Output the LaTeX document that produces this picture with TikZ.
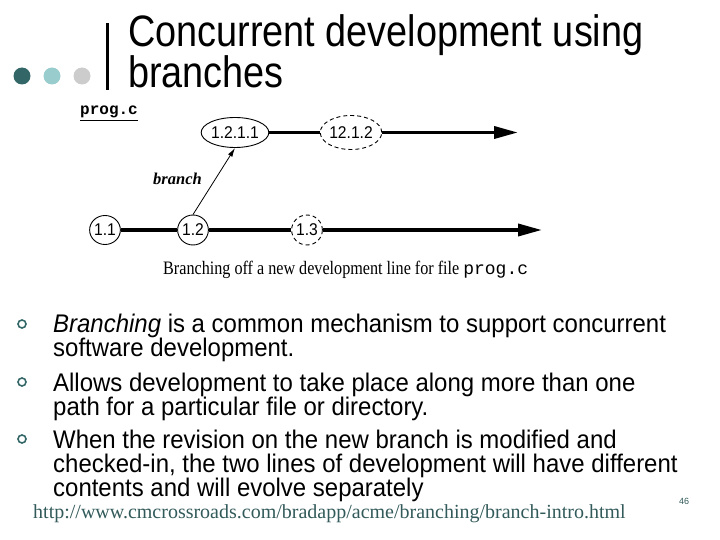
\documentclass[tikz,border=0pt]{standalone}
\usepackage{fontspec}
\setmainfont{Liberation Sans}
\newfontfamily\seriffont{Liberation Serif}
\newfontfamily\monofont{Liberation Mono}
\usetikzlibrary{shapes.geometric,arrows.meta}
\definecolor{darkteal}{RGB}{51,102,102}
\definecolor{lightteal}{RGB}{153,204,204}
\definecolor{dotgray}{RGB}{204,204,204}
\definecolor{urlcol}{RGB}{51,90,90}
\tikzset{
  rev/.style={ellipse,draw,line width=0.9pt,inner sep=0pt,font=\fontsize{17}{17}\selectfont},
  revdash/.style={rev,dash pattern=on 4pt off 3pt},
  mainline/.style={line width=3.6pt},
  arrowline/.style={line width=3.6pt,-{Triangle[length=24pt,width=12pt]}},
  branchline/.style={line width=0.8pt,-{Latex[length=9pt,width=5pt]}},
  bodyline/.style={anchor=base west,inner sep=0pt,xscale=0.94,transform shape,font=\fontsize{25.5}{25.5}\selectfont},
  bul/.style={circle,draw=darkteal,line width=1.6pt,minimum size=8pt,inner sep=0pt},
}
\begin{document}
\begin{tikzpicture}[x=1pt,y=-1pt]
\useasboundingbox (0,0) rectangle (720,540);
% header decoration
\fill[darkteal] (22,76) circle (8.5);
\fill[lightteal] (52,76) circle (8.5);
\fill[dotgray] (82,76) circle (8.5);
\fill[black] (105.5,23) rectangle (108.5,90);
% title
\node[anchor=base west,inner sep=0pt,xscale=0.86,transform shape,font=\fontsize{44}{44}\selectfont] (t1) at (128,47) {Concurrent development using};
\node[anchor=base west,inner sep=0pt,xscale=0.86,transform shape,font=\fontsize{44}{44}\selectfont] (t2) at (128,88) {branches};
% diagram
\node[anchor=base west,inner sep=0pt,font=\monofont\bfseries\fontsize{16}{16}\selectfont] (pc) at (80,115) {\underline{prog.c}};
\node[rev,minimum width=33pt,minimum height=29pt,xscale=0.92,transform shape] (n11) at (105,230) {1.1};
\node[rev,minimum width=33pt,minimum height=30pt,xscale=0.92,transform shape] (n12) at (193,230) {1.2};
\node[revdash,minimum width=33pt,minimum height=30pt,xscale=0.92,transform shape] (n13) at (307,230) {1.3};
\node[rev,minimum width=64pt,minimum height=30pt,xscale=0.92,transform shape] (n1211) at (235,132.5) {1.2.1.1};
\node[revdash,minimum width=61pt,minimum height=34pt,xscale=0.92,transform shape] (n1212) at (351,132.5) {12.1.2};
\coordinate (e1) at (518,132.5);
\coordinate (e2) at (542,230);
\draw[mainline] (n11) -- (n12);
\draw[mainline] (n12) -- (n13);
\draw[arrowline] (n13) -- (e2);
\draw[mainline] (n1211) -- (n1212);
\draw[arrowline] (n1212) -- (e1);
\draw[branchline] (n12.north) -- (n1211.south);
\node[anchor=base west,inner sep=0pt,font=\seriffont\bfseries\itshape\fontsize{16.5}{16.5}\selectfont] (br) at (153,185) {branch};
\node[anchor=base west,inner sep=0pt] (cap) at (163,274) {\scalebox{0.85}[1]{\seriffont\fontsize{19}{19}\selectfont Branching off a new development line for file}\hspace{4pt}{\monofont\fontsize{18}{18}\selectfont prog.c}};
% bullets
\node[bul] (b1) at (22,324) {};
\node[bul] (b2) at (22,382) {};
\node[bul] (b3) at (22,439) {};
\node[bodyline] (l1) at (53,332) {\textit{Branching} is a common mechanism to support concurrent};
\node[bodyline] (l2) at (53,356) {software development.};
\node[bodyline] (l3) at (53,391) {Allows development to take place along more than one};
\node[bodyline] (l4) at (53,415) {path for a particular file or directory.};
\node[bodyline] (l5) at (53,448) {When the revision on the new branch is modified and};
\node[bodyline] (l6) at (53,472) {checked-in, the two lines of development will have different};
\node[bodyline] (l7) at (53,496) {contents and will evolve separately};
% footer
\node[anchor=base west,inner sep=0pt,text=urlcol,font=\seriffont\fontsize{20}{20}\selectfont] (url) at (33,518) {http://www.cmcrossroads.com/bradapp/acme/branching/branch-intro.html};
\node[anchor=base west,inner sep=0pt,text=urlcol,font=\fontsize{9}{9}\selectfont] (pg) at (679,504) {46};
\end{tikzpicture}
\end{document}
